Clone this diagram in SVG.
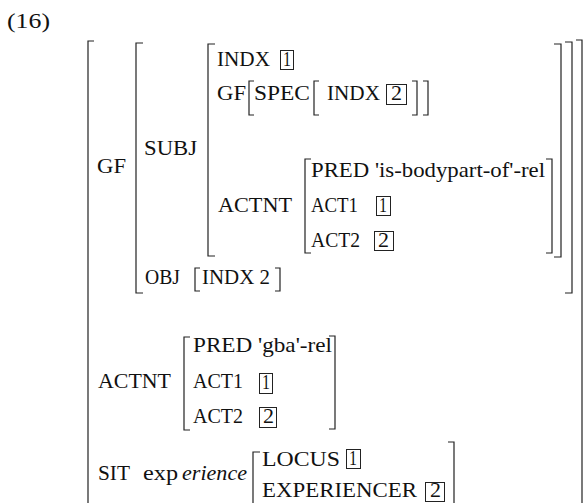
<svg xmlns="http://www.w3.org/2000/svg" width="583" height="503" viewBox="0 0 583 503">
<style>
text{font-family:"Liberation Serif","Times New Roman",Times,serif;font-size:22px;fill:#111}
.it{font-style:italic}
.br{fill:none;stroke:#222;stroke-width:1.2}
.bx{fill:none;stroke:#222;stroke-width:1}
</style>
<rect width="583" height="503" fill="#fff"/>
<text x="7" y="28" textLength="43" lengthAdjust="spacingAndGlyphs">(16)</text>

<g id="outer">
<path class="br" d="M94 41H88V510H94"/>
<path class="br" d="M576 40H582V510H576"/>
<text x="97" y="173" textLength="29" lengthAdjust="spacingAndGlyphs">GF</text>
<text x="98" y="388" textLength="73" lengthAdjust="spacingAndGlyphs">ACTNT</text>
<text x="98" y="480" textLength="32" lengthAdjust="spacingAndGlyphs">SIT</text>
<text x="143" y="480" textLength="35" lengthAdjust="spacingAndGlyphs">exp</text>
<text class="it" x="182" y="480" textLength="65" lengthAdjust="spacingAndGlyphs">erience</text>
</g>

<g id="gf">
<path class="br" d="M143 43H136V293H143"/>
<path class="br" d="M565 42H572V293H565"/>
<text x="144" y="155" textLength="53" lengthAdjust="spacingAndGlyphs">SUBJ</text>
<text x="145" y="284" textLength="35" lengthAdjust="spacingAndGlyphs">OBJ</text>
</g>

<g id="subj">
<path class="br" d="M215 44H208V256H215"/>
<path class="br" d="M554 44H561V257H554"/>
<text x="217" y="66" textLength="53" lengthAdjust="spacingAndGlyphs">INDX</text>
<rect class="bx" x="280.5" y="50.5" width="13" height="19"/>
<text x="283" y="66" textLength="8" lengthAdjust="spacingAndGlyphs">1</text>
<text x="217" y="100" textLength="29" lengthAdjust="spacingAndGlyphs">GF</text>
<text x="218" y="212" textLength="74" lengthAdjust="spacingAndGlyphs">ACTNT</text>
</g>

<g id="gf-spec">
<path class="br" d="M254 81H249V115H254"/>
<text x="254" y="100" textLength="56" lengthAdjust="spacingAndGlyphs">SPEC</text>
<path class="br" d="M319 81H314V115H319"/>
<text x="327" y="100" textLength="53" lengthAdjust="spacingAndGlyphs">INDX</text>
<rect class="bx" x="386.5" y="84.5" width="20" height="20"/>
<text x="391" y="100" textLength="11" lengthAdjust="spacingAndGlyphs">2</text>
<path class="br" d="M412 81H417V115H412"/>
<path class="br" d="M423 81H428V115H423"/>
</g>

<g id="subj-actnt">
<path class="br" d="M311 159H305V253H311"/>
<path class="br" d="M546 159H552V253H546"/>
<text x="311" y="177" textLength="234" lengthAdjust="spacingAndGlyphs">PRED 'is-bodypart-of'-rel</text>
<text x="311" y="212" textLength="47" lengthAdjust="spacingAndGlyphs">ACT1</text>
<rect class="bx" x="376.5" y="196.5" width="14" height="19"/>
<text x="379" y="212" textLength="8" lengthAdjust="spacingAndGlyphs">1</text>
<text x="311" y="247" textLength="49" lengthAdjust="spacingAndGlyphs">ACT2</text>
<rect class="bx" x="374.5" y="231.5" width="19" height="19"/>
<text x="378" y="247" textLength="11" lengthAdjust="spacingAndGlyphs">2</text>
</g>

<g id="obj">
<path class="br" d="M200 268H195V291H200"/>
<text x="202" y="284" textLength="68" lengthAdjust="spacingAndGlyphs">INDX 2</text>
<path class="br" d="M275 268H280V291H275"/>
</g>

<g id="actnt">
<path class="br" d="M190 337H184V430H190"/>
<path class="br" d="M329 336H335V429H329"/>
<text x="193" y="352" textLength="139" lengthAdjust="spacingAndGlyphs">PRED 'gba'-rel</text>
<text x="193" y="388" textLength="50" lengthAdjust="spacingAndGlyphs">ACT1</text>
<rect class="bx" x="259.5" y="373.5" width="13" height="20"/>
<text x="262" y="389" textLength="8" lengthAdjust="spacingAndGlyphs">1</text>
<text x="193" y="423" textLength="50" lengthAdjust="spacingAndGlyphs">ACT2</text>
<rect class="bx" x="259.5" y="407.5" width="17" height="20"/>
<text x="263" y="423" textLength="11" lengthAdjust="spacingAndGlyphs">2</text>
</g>

<g id="sit">
<path class="br" d="M260 452H253V510H260"/>
<path class="br" d="M448 442H454V510H448"/>
<text x="262" y="466" textLength="78" lengthAdjust="spacingAndGlyphs">LOCUS</text>
<rect class="bx" x="346.5" y="449.5" width="14" height="19"/>
<text x="349" y="465" textLength="8" lengthAdjust="spacingAndGlyphs">1</text>
<text x="262" y="497" textLength="155" lengthAdjust="spacingAndGlyphs">EXPERIENCER</text>
<rect class="bx" x="425.5" y="482.5" width="19" height="19"/>
<text x="430" y="497" textLength="11" lengthAdjust="spacingAndGlyphs">2</text>
</g>
</svg>
